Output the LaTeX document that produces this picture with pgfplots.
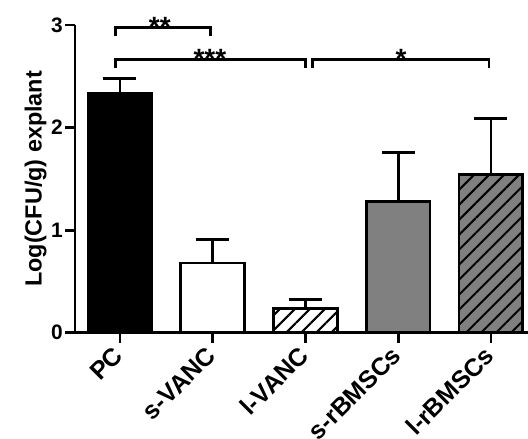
\documentclass[border=0pt]{standalone}
\usepackage{fontspec}
\setmainfont{Liberation Sans}
\usepackage{pgfplots}
\pgfplotsset{compat=1.18}
\usetikzlibrary{patterns.meta}
\definecolor{bargray}{RGB}{128,128,128}
\begin{document}
\begin{tikzpicture}
\begin{axis}[
  at={(0,0)}, anchor=south west,
  scale only axis, width=453bp, height=307.7bp,
  xmin=-0.485, xmax=4.40, ymin=0, ymax=3,
  axis x line*=bottom, axis y line*=left,
  axis line style={line width=2.8bp, -},
  xtick={0,1,2,3,4},
  xticklabels={PC,s-VANC,l-VANC,s-rBMSCs,l-rBMSCs},
  ytick={0,1,2,3},
  tick style={line width=2.8bp, black},
  major tick length=10bp,
  tick align=outside,
  xticklabel shift=7bp,
  x tick label style={rotate=45, anchor=east, inner sep=2bp, font=\fontsize{25}{25}\selectfont\bfseries},
  y tick label style={inner sep=2bp, font=\fontsize{21}{21}\selectfont\bfseries},
  ylabel={Log(CFU/g) explant},
  ylabel style={font=\fontsize{23.5}{23.5}\selectfont\bfseries, yshift=-1bp},
  /pgf/number format/assume math mode=true,
  clip=false,
  ybar, bar width=0.688, bar shift=0pt,
  every axis plot/.append style={draw=black, line width=2.8bp,
    error bars/y dir=plus, error bars/y explicit,
    error bars/error bar style={line width=2.8bp, black},
    error bars/error mark options={rotate=90, mark size=16.5bp, line width=2.8bp, black}},
]
\addplot[fill=black] coordinates {(0,2.33) +- (0,0.15)};
\addplot[fill=white] coordinates {(1,0.68) +- (0,0.225)};
\addplot[fill=white, postaction={pattern={Lines[angle=45,distance=10.6bp,line width=2bp]}}] coordinates {(2,0.235) +- (0,0.09)};
\addplot[fill=bargray] coordinates {(3,1.28) +- (0,0.475)};
\addplot[fill=bargray, postaction={pattern={Lines[angle=45,distance=10.6bp,line width=2bp]}}] coordinates {(4,1.545) +- (0,0.545)};

\draw[line width=2.8bp] (axis cs:-0.05,2.889) |- (axis cs:0.98,2.974) -- (axis cs:0.98,2.889);
\draw[line width=2.8bp] (axis cs:-0.05,2.577) |- (axis cs:2.0,2.662) -- (axis cs:2.0,2.577);
\draw[line width=2.8bp] (axis cs:2.08,2.577) |- (axis cs:3.98,2.662) -- (axis cs:3.98,2.577);
\node[anchor=base, inner sep=0pt, font=\fontsize{28}{28}\selectfont\bfseries, yshift=-8.5bp] at (axis cs:0.43,2.974) {**};
\node[anchor=base, inner sep=0pt, font=\fontsize{28}{28}\selectfont\bfseries, yshift=-8.5bp] at (axis cs:0.97,2.662) {***};
\node[anchor=base, inner sep=0pt, font=\fontsize{28}{28}\selectfont\bfseries, yshift=-8.5bp] at (axis cs:3.03,2.662) {*};
\end{axis}
\pgfresetboundingbox
\path[use as bounding box] (-75bp,-106.3bp) rectangle (453bp,332.7bp);
\end{tikzpicture}
\end{document}
